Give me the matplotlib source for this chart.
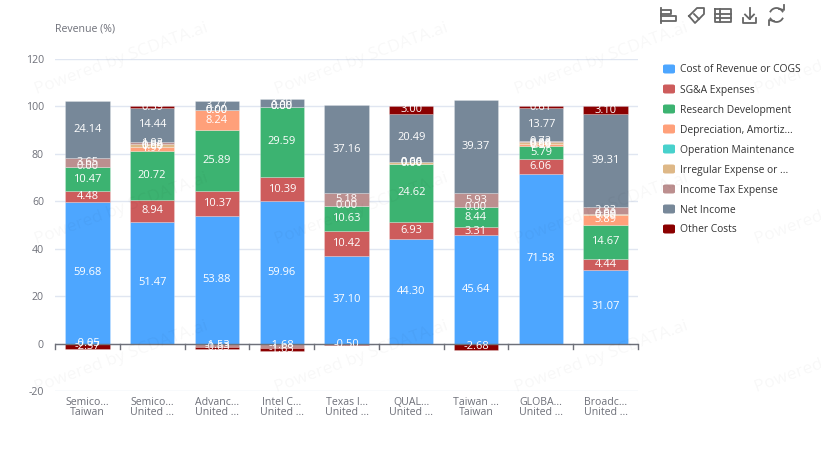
import numpy as np
import matplotlib
matplotlib.use("Agg")
import matplotlib.pyplot as plt
from matplotlib.lines import Line2D
from matplotlib.patches import FancyBboxPatch

plt.rcParams['font.family'] = ['Open Sans', 'DejaVu Sans']
plt.rcParams['axes.unicode_minus'] = False

nan = np.nan

names = ["Semico...\nTaiwan", "Semico...\nUnited ...", "Advanc...\nUnited ...",
         "Intel C...\nUnited ...", "Texas I...\nUnited ...", "QUAL...\nUnited ...",
         "Taiwan ...\nTaiwan", "GLOBA...\nUnited ...", "Broadc...\nUnited ..."]

legend_names = ["Cost of Revenue or COGS", "SG&A Expenses", "Research Development",
                "Depreciation, Amortiz...", "Operation Maintenance", "Irregular Expense or ...",
                "Income Tax Expense", "Net Income", "Other Costs"]

colors = ["#4da6ff", "#cd5c5c", "#3cb371", "#ffa07a", "#48d1cc",
          "#deb887", "#bc8f8f", "#778899", "#8b0000"]

# nan = nothing in the source, no label either
cogs = [59.68, 51.47, 53.88, 59.96, 37.10, 44.30, 45.64, 71.58, 31.07]
sga = [4.48, 8.94, 10.37, 10.39, 10.42, 6.93, 3.31, 6.06, 4.44]
rnd = [10.47, 20.72, 25.89, 29.59, 10.63, 24.62, 8.44, 5.79, 14.67]
depr = [nan, 1.97, 8.24, nan, nan, nan, nan, 0.59, 3.89]
opm = [0.00, 0.00, 0.00, 0.00, 0.00, 0.00, 0.00, 0.00, 0.00]
irreg = [-0.05, 0.85, 0.00, 0.00, nan, 0.66, nan, 0.88, 0.69]
tax = [3.65, 1.02, -1.53, -1.68, 5.18, 0.00, 5.93, 0.72, 2.83]
net = [24.14, 14.44, 3.77, 3.30, 37.16, 20.49, 39.37, 13.77, 39.31]
other = [-2.37, 0.59, -0.63, -1.63, -0.50, 3.00, -2.68, 0.61, 3.10]

series = [cogs, sga, rnd, depr, opm, irreg, tax, net, other]
yticks = [-20, 0, 20, 40, 60, 80, 100, 120]

W, H = 821, 458
fig = plt.figure(figsize=(W / 100, H / 100), dpi=100)
ax = fig.add_axes([55 / W, 1 - 391.0 / H, 583 / W, 332 / H])

x = np.arange(len(names))
pos = np.zeros(len(names))
neg = np.zeros(len(names))
for vals, col in zip(series, colors):
    for i, v in enumerate(vals):
        if np.isnan(v):
            continue
        base = pos[i] if v >= 0 else neg[i]
        ax.bar(x[i], v, 0.685, bottom=base, color=col, edgecolor="#ffffff40", linewidth=0.6, zorder=3)
        ax.text(x[i], base + v / 2, "%.2f" % v, color="white", fontsize=8,
                ha="center", va="center", zorder=7)
        if v >= 0:
            pos[i] += v
        else:
            neg[i] += v

ax.set_xlim(-0.5, len(names) - 0.5)
ax.set_ylim(-20, 120)
ax.set_yticks(yticks)
ax.set_xticks(x)
ax.set_xticklabels(names, linespacing=0.95)
ax.set_axisbelow(True)
ax.grid(axis="y", color="#e0e6f1", linewidth=1)
for s in ax.spines.values():
    s.set_visible(False)
ax.tick_params(axis="y", length=0, labelsize=7.6, labelcolor="#6e7079", pad=8)
ax.tick_params(axis="x", length=0, labelsize=7.6, labelcolor="#6e7079", pad=4)

# x axis sits on zero, ticks between the categories
ax.axhline(0, color="#6e7079", linewidth=1, zorder=6)
for b in np.arange(len(names) + 1) - 0.5:
    ax.plot([b, b], [0, -2.1], color="#6e7079", linewidth=1, zorder=6, clip_on=False)

fig.text(55 / W, 1 - 29 / H, "Revenue (%)", fontsize=7.6, color="#6e7079", ha="left", va="center")

# legend
for i, (name, col) in enumerate(zip(legend_names, colors)):
    y = 69 + i * 20
    fig.add_artist(FancyBboxPatch((663 / W, 1 - (y + 4.5) / H), 12 / W, 9 / H,
                                  boxstyle="round,pad=0,rounding_size=0.003",
                                  transform=fig.transFigure, facecolor=col, edgecolor="none"))
    fig.text(680 / W, 1 - (y + 1) / H, name, fontsize=7.4, color="#333333", ha="left", va="center")

# toolbox icons
def seg(xs, ys):
    fig.add_artist(Line2D([a / W for a in xs], [1 - b / H for b in ys], color="#666666", linewidth=1.3))

seg([661, 661], [8, 23])
seg([661, 671, 671, 661], [10, 10, 14, 14])
seg([661, 676, 676, 661], [16, 16, 21, 21])
seg([689, 697, 704, 704, 695, 689], [16, 8, 8, 14, 23, 16])
seg([694, 699], [14, 19])
seg([715, 731, 731, 715, 715], [9, 9, 22, 22, 9])
seg([715, 731], [13.5, 13.5])
seg([715, 731], [18, 18])
seg([720, 720], [9, 22])
seg([743, 743, 756, 756], [18, 22.5, 22.5, 18])
seg([749.5, 749.5], [8, 19])
seg([745, 749.5, 754], [14.5, 19, 14.5])
t = np.radians(np.arange(30, 160, 10))
seg(list(776.5 + 7 * np.cos(t)), list(15 - 7 * np.sin(t)))
seg(list(776.5 - 7 * np.cos(t)), list(15 + 7 * np.sin(t)))
seg([779, 784, 784], [9, 10, 5])
seg([774, 769, 769], [21, 20, 25])

# watermark
for wy in [90, 240, 388]:
    for wx in [35, 275, 515, 755]:
        fig.text(wx / W, 1 - wy / H, "Powered by SCDATA.ai", fontsize=12.5, color="#00000008",
                 rotation=20, rotation_mode="anchor", ha="left", va="center", clip_on=True)

fig.savefig("out.png", dpi=100)
